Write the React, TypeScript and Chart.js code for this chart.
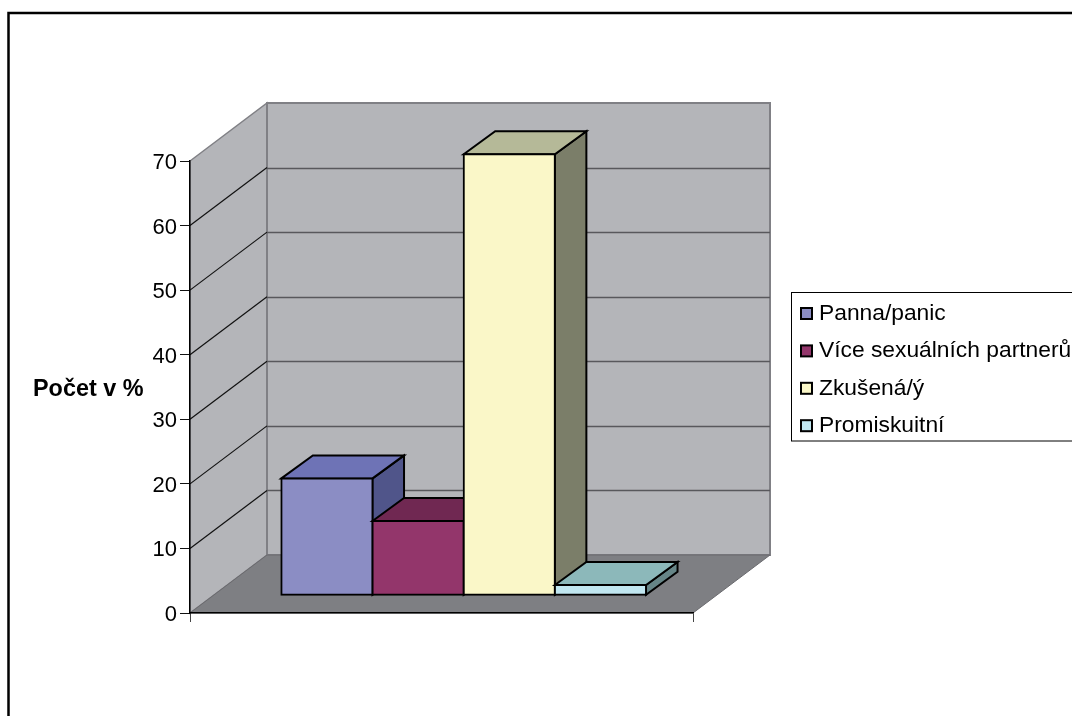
import React, { useEffect, useRef } from "react";
import { Chart, registerables } from "chart.js";

Chart.register(...registerables);

// Survey shares, in percent, one bar per answer.
const categories = [""];
const seriesNames = ["Panna/panic", "Více sexuálních partnerů", "Zkušená/ý", "Promiskuitní"];
const seriesValues = [18.1, 11.5, 68.3, 1.6];
const axisTitle = "Počet v %";
const axisMax = 70;
const axisStep = 10;

const frontColors = ["#8B8DC4", "#93366B", "#FAF7C8", "#C0E6F0"];
const topColors = ["#6E73B6", "#702852", "#B5B998", "#8CB8BA"];
const sideColors = ["#50558A", "#551F3F", "#7B7E69", "#668587"];

const FONT = '"Liberation Sans", Arial, sans-serif';

// Projection of the depth axis: the whole floor, the bars' front plane and the bars' own depth.
const floorDepth = { x: 77, y: -58 };
const barOffset = { x: 22.2, y: -17.7 };
const barDepth = { x: 31.5, y: -23 };

function polygon(ctx: CanvasRenderingContext2D, pts: number[][], fill: string, stroke: string, width: number) {
  ctx.beginPath();
  pts.forEach((p, i) => (i ? ctx.lineTo(p[0], p[1]) : ctx.moveTo(p[0], p[1])));
  ctx.closePath();
  ctx.fillStyle = fill;
  ctx.fill();
  ctx.strokeStyle = stroke;
  ctx.lineWidth = width;
  ctx.lineJoin = "miter";
  ctx.stroke();
}

// Page frame, walls, floor and the gridlines on both walls.
const room = {
  id: "room",
  beforeDraw(chart: any) {
    const { ctx, chartArea: a, scales } = chart;
    const y = scales.y;
    const d = floorDepth;
    ctx.save();
    ctx.fillStyle = "#FFFFFF";
    ctx.fillRect(0, 0, chart.width, chart.height);
    ctx.strokeStyle = "#000000";
    ctx.lineWidth = 2.5;
    ctx.strokeRect(8.5, 13, chart.width + 20, chart.height + 20);

    const wall = "#B4B5B9";
    const edge = "#808085";
    polygon(ctx, [[a.left, a.top], [a.left + d.x, a.top + d.y], [a.left + d.x, a.bottom + d.y], [a.left, a.bottom]], wall, edge, 1.5);
    polygon(ctx, [[a.left + d.x, a.top + d.y], [a.right + d.x, a.top + d.y], [a.right + d.x, a.bottom + d.y], [a.left + d.x, a.bottom + d.y]], wall, edge, 2);
    polygon(ctx, [[a.left, a.bottom], [a.left + d.x, a.bottom + d.y], [a.right + d.x, a.bottom + d.y], [a.right, a.bottom]], "#7E7F83", "#6A6A6E", 1);

    for (let v = axisStep; v < axisMax; v += axisStep) {
      const py = y.getPixelForValue(v);
      ctx.lineWidth = 1.2;
      ctx.strokeStyle = "#111111";
      ctx.beginPath();
      ctx.moveTo(a.left, py);
      ctx.lineTo(a.left + d.x, py + d.y);
      ctx.stroke();
      ctx.lineWidth = 1.5;
      ctx.strokeStyle = "#58585C";
      ctx.beginPath();
      ctx.moveTo(a.left + d.x, Math.round(py + d.y) + 0.5);
      ctx.lineTo(a.right + d.x, Math.round(py + d.y) + 0.5);
      ctx.stroke();
    }
    ctx.restore();
  },
};

// The default pass paints the last bar first; here the bars are painted left to right
// instead, pushed back into the room, so each one covers its left neighbour's side face.
const bars3d = {
  id: "bars3d",
  beforeDatasetDraw() {
    return false;
  },
  afterDatasetsDraw(chart: any) {
    const { ctx } = chart;
    const d = barDepth;
    ctx.save();
    ctx.translate(barOffset.x, barOffset.y);
    chart.getSortedVisibleDatasetMetas().forEach((meta: any) => {
      const i = meta.index;
      meta.data.forEach((el: any) => {
        const l = el.x - el.width / 2;
        const r = el.x + el.width / 2;
        polygon(ctx, [[r, el.y], [r + d.x, el.y + d.y], [r + d.x, el.base + d.y], [r, el.base]], sideColors[i], "#000000", 2);
        polygon(ctx, [[l, el.y], [l + d.x, el.y + d.y], [r + d.x, el.y + d.y], [r, el.y]], topColors[i], "#000000", 2);
        el.draw(ctx);
      });
    });
    ctx.restore();
  },
};

// Boxed key on the right and the horizontal axis caption.
const captions = {
  id: "captions",
  afterDraw(chart: any) {
    const { ctx } = chart;
    ctx.save();
    ctx.fillStyle = "#FFFFFF";
    ctx.fillRect(791.5, 292.5, 300, 148.5);
    ctx.strokeStyle = "#000000";
    ctx.lineWidth = 1;
    ctx.strokeRect(791.5, 292.5, 300, 148.5);
    ctx.textBaseline = "middle";
    ctx.textAlign = "left";
    ctx.font = `22.8px ${FONT}`;
    chart.data.datasets.forEach((ds: any, i: number) => {
      const cy = 313.5 + i * 37.4;
      ctx.fillStyle = ds.backgroundColor;
      ctx.fillRect(801, cy - 5.5, 11, 11);
      ctx.strokeStyle = "#000000";
      ctx.lineWidth = 2;
      ctx.strokeRect(801, cy - 5.5, 11, 11);
      ctx.fillStyle = "#000000";
      ctx.fillText(ds.label, 819, cy);
    });
    ctx.font = `bold 23.4px ${FONT}`;
    ctx.fillText(axisTitle, 33, 390);
    ctx.restore();
  },
};

export default function App() {
  const ref = useRef<HTMLCanvasElement>(null);

  useEffect(() => {
    const chart = new Chart(ref.current as HTMLCanvasElement, {
      type: "bar",
      data: {
        labels: categories,
        datasets: seriesNames.map((name, i) => ({
          label: name,
          data: [seriesValues[i]],
          backgroundColor: frontColors[i],
          borderColor: "#000000",
          borderWidth: 2,
          borderSkipped: false,
          inflateAmount: 1,
        })),
      },
      options: {
        animation: false,
        responsive: false,
        events: [],
        layout: { padding: { left: 0, right: 379, top: 161, bottom: 0 } },
        plugins: { legend: { display: false }, title: { display: false }, tooltip: { enabled: false } },
        datasets: { bar: { categoryPercentage: 0.725, barPercentage: 1 } },
        scales: {
          x: {
            offset: true,
            afterFit: (s: any) => {
              s.height = 103;
            },
            grid: { offset: true, drawOnChartArea: false, tickLength: 9, color: "#444444", lineWidth: 1 },
            border: { color: "#000000", width: 1.5 },
            ticks: { display: false },
          },
          y: {
            min: 0,
            max: axisMax,
            afterFit: (s: any) => {
              s.width = 190;
            },
            grid: { drawOnChartArea: false, tickLength: 10, color: "#111111", lineWidth: 1 },
            border: { color: "#000000", width: 1.5 },
            ticks: { stepSize: axisStep, color: "#000000", padding: 3, labelOffset: 2, font: { family: FONT, size: 22 } },
          },
        },
      },
      plugins: [room, bars3d, captions],
    } as any);
    return () => chart.destroy();
  }, []);

  return (
    <canvas
      ref={ref}
      width={1072}
      height={716}
      style={{ position: "absolute", left: 0, top: 0, width: 1072, height: 716, display: "block" }}
    />
  );
}
